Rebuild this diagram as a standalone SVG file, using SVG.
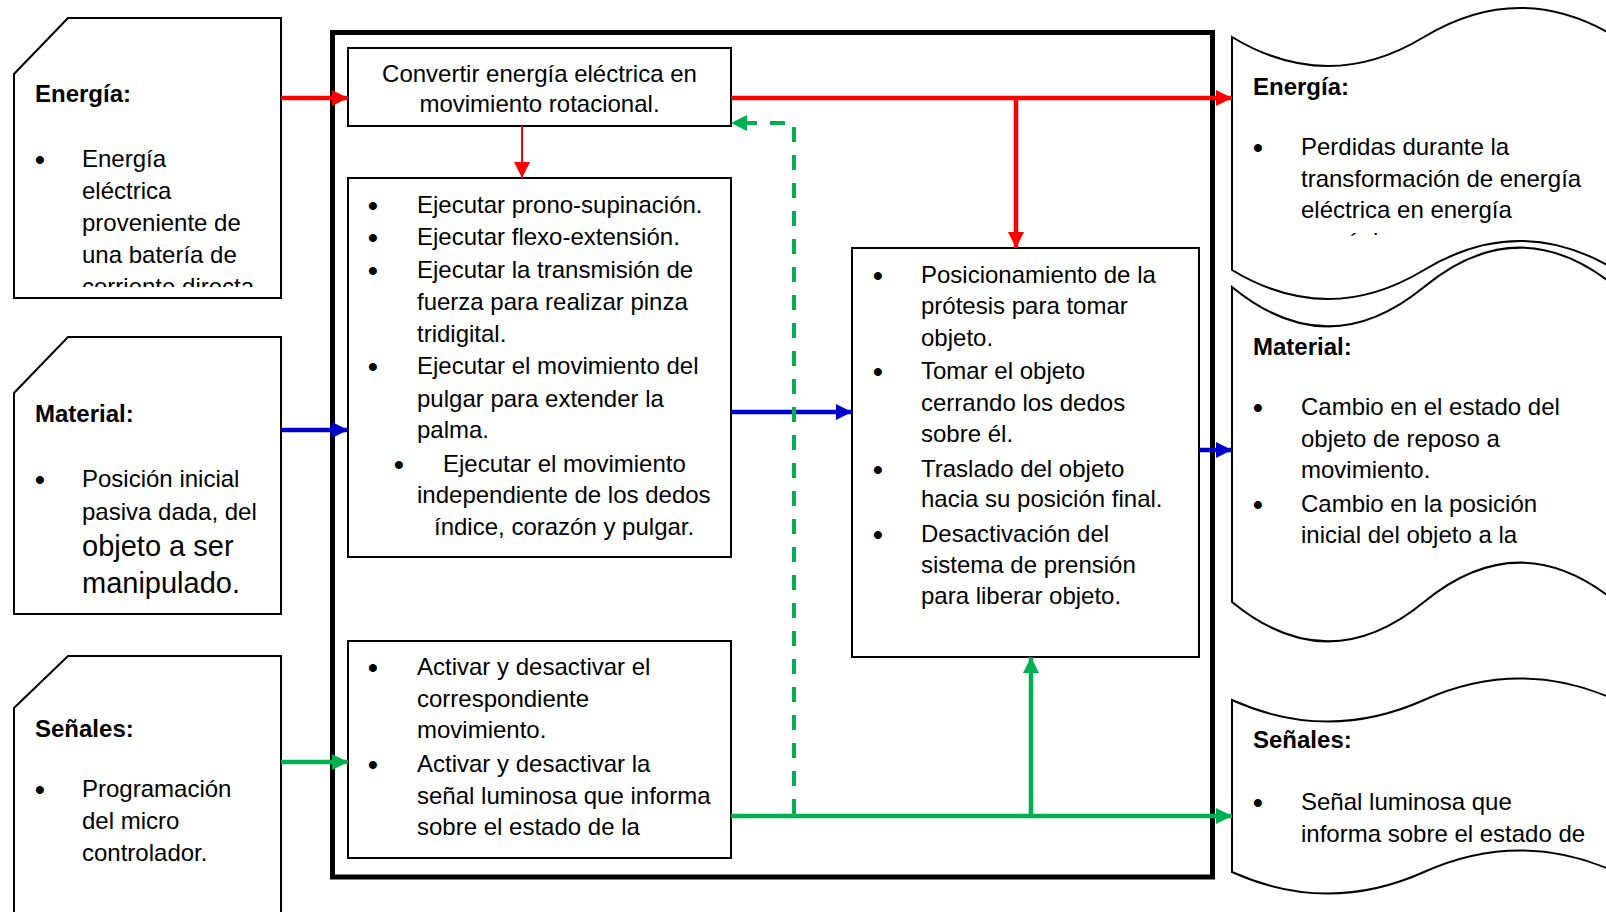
<svg xmlns="http://www.w3.org/2000/svg" width="1606" height="912" viewBox="0 0 1606 912">
<style>
text{font-family:"Liberation Sans",Arial,sans-serif;font-size:24px;fill:#000}
.b{font-weight:bold}
.big{font-size:29px}
.bul{text-anchor:middle;font-size:28px;font-weight:bold}
.c{text-anchor:middle}
.box{fill:#fff;stroke:#000;stroke-width:2}
.frame{fill:none;stroke:#000;stroke-width:5}
.r{stroke:#FF0000;stroke-width:4.5;fill:none}
.r2{stroke:#FF0000;stroke-width:2;fill:none}
.bl{stroke:#0000CC;stroke-width:4.5;fill:none}
.g{stroke:#00B050;stroke-width:4.5;fill:none}
.gd{stroke:#00B050;stroke-width:4;fill:none;stroke-dasharray:15 13}
</style>
<defs>
<marker id="ar" markerUnits="userSpaceOnUse" markerWidth="16" markerHeight="16" refX="16" refY="8" orient="auto"><path d="M0,0 L16,8 L0,16 z" fill="#FF0000"/></marker>
<marker id="ab" markerUnits="userSpaceOnUse" markerWidth="16" markerHeight="16" refX="16" refY="8" orient="auto"><path d="M0,0 L16,8 L0,16 z" fill="#0000CC"/></marker>
<marker id="ag" markerUnits="userSpaceOnUse" markerWidth="16" markerHeight="16" refX="16" refY="8" orient="auto"><path d="M0,0 L16,8 L0,16 z" fill="#00B050"/></marker>
<clipPath id="clipE"><rect x="0" y="0" width="300" height="287"/></clipPath>
<clipPath id="clipRE"><rect x="1230" y="0" width="380" height="236"/></clipPath>
</defs>
<rect width="1606" height="912" fill="#fff"/>

<g id="in-energia">
<polygon class="box" points="68,18 281,18 281,298 14,298 14,74"/>
<text class="b" x="35" y="102">Energía:</text>
<text class="bul" x="40" y="169">•</text>
<g clip-path="url(#clipE)">
<text x="82" y="167">Energía</text>
<text x="82" y="199">eléctrica</text>
<text x="82" y="231">proveniente de</text>
<text x="82" y="263">una batería de</text>
<text x="82" y="295">corriente directa</text>
</g>
</g>

<g id="in-material">
<polygon class="box" points="68,337 281,337 281,614 14,614 14,393"/>
<text class="b" x="35" y="422">Material:</text>
<text class="bul" x="40" y="489">•</text>
<text x="82" y="487">Posición inicial</text>
<text x="82" y="520">pasiva dada, del</text>
<text class="big" x="82" y="556">objeto a ser</text>
<text class="big" x="82" y="593">manipulado.</text>
</g>

<g id="in-senales">
<polygon class="box" points="68,656 281,656 281,920 14,920 14,708"/>
<text class="b" x="35" y="737">Señales:</text>
<text class="bul" x="40" y="799">•</text>
<text x="82" y="797">Programación</text>
<text x="82" y="829">del micro</text>
<text x="82" y="861">controlador.</text>
</g>

<g id="frame">
<rect class="frame" x="332.5" y="32.5" width="880" height="844.5"/>
</g>

<g id="convertir">
<rect class="box" x="348" y="48" width="383" height="78"/>
<text class="c" x="539.5" y="82">Convertir energía eléctrica en</text>
<text class="c" x="539.5" y="112">movimiento rotacional.</text>
</g>

<g id="ejecutar">
<rect class="box" x="348" y="178" width="383" height="379"/>
<text class="bul" x="373" y="215">•</text>
<text x="417" y="213">Ejecutar prono-supinación.</text>
<text class="bul" x="373" y="247">•</text>
<text x="417" y="245">Ejecutar flexo-extensión.</text>
<text class="bul" x="373" y="280">•</text>
<text x="417" y="278">Ejecutar la transmisión de</text>
<text x="417" y="310">fuerza para realizar pinza</text>
<text x="417" y="342">tridigital.</text>
<text class="bul" x="373" y="376">•</text>
<text x="417" y="374">Ejecutar el movimiento del</text>
<text x="417" y="407">pulgar para extender la</text>
<text x="417" y="438">palma.</text>
<text class="bul" x="399" y="474">•</text>
<text x="443" y="472">Ejecutar el movimiento</text>
<text x="417" y="503">independiente de los dedos</text>
<text x="434" y="535">índice, corazón y pulgar.</text>
</g>

<g id="activar">
<rect class="box" x="348" y="641" width="383" height="217"/>
<text class="bul" x="373" y="677">•</text>
<text x="417" y="675">Activar y desactivar el</text>
<text x="417" y="707">correspondiente</text>
<text x="417" y="738">movimiento.</text>
<text class="bul" x="373" y="774">•</text>
<text x="417" y="772">Activar y desactivar la</text>
<text x="417" y="804">señal luminosa que informa</text>
<text x="417" y="835">sobre el estado de la</text>
</g>

<g id="posicionamiento">
<rect class="box" x="852" y="248" width="347" height="409"/>
<text class="bul" x="878" y="285">•</text>
<text x="921" y="283">Posicionamiento de la</text>
<text x="921" y="314">prótesis para tomar</text>
<text x="921" y="346">objeto.</text>
<text class="bul" x="878" y="381">•</text>
<text x="921" y="379">Tomar el objeto</text>
<text x="921" y="411">cerrando los dedos</text>
<text x="921" y="442">sobre él.</text>
<text class="bul" x="878" y="479">•</text>
<text x="921" y="477">Traslado del objeto</text>
<text x="921" y="507">hacia su posición final.</text>
<text class="bul" x="878" y="544">•</text>
<text x="921" y="542">Desactivación del</text>
<text x="921" y="573">sistema de prensión</text>
<text x="921" y="604">para liberar objeto.</text>
</g>

<g id="out-energia">
<path class="box" d="M1232,37 C1296,75.7 1360,75.7 1424,37 C1488,-1.7 1552,-1.7 1616,37 L1616,270 C1552,231.3 1488,231.3 1424,270 C1360,308.7 1296,308.7 1232,270 Z"/>
<text class="b" x="1253" y="95">Energía:</text>
<text class="bul" x="1258" y="157">•</text>
<g clip-path="url(#clipRE)">
<text x="1301" y="155">Perdidas durante la</text>
<text x="1301" y="187">transformación de energía</text>
<text x="1301" y="218">eléctrica en energía</text>
<text x="1301" y="250">mecánica.</text>
</g>
</g>

<g id="out-material">
<path class="box" d="M1232,287 C1296,339.5 1360,339.5 1424,287 C1488,234.5 1552,234.5 1616,287 L1616,602 C1552,549.5 1488,549.5 1424,602 C1360,654.5 1296,654.5 1232,602 Z"/>
<text class="b" x="1253" y="355">Material:</text>
<text class="bul" x="1258" y="417">•</text>
<text x="1301" y="415">Cambio en el estado del</text>
<text x="1301" y="447">objeto de reposo a</text>
<text x="1301" y="478">movimiento.</text>
<text class="bul" x="1258" y="514">•</text>
<text x="1301" y="512">Cambio en la posición</text>
<text x="1301" y="543">inicial del objeto a la</text>
</g>

<g id="out-senales">
<path class="box" d="M1232,700 C1296,728.7 1360,728.7 1424,700 C1488,671.3 1552,671.3 1616,700 L1616,872 C1552,843.3 1488,843.3 1424,872 C1360,900.7 1296,900.7 1232,872 Z"/>
<text class="b" x="1253" y="748">Señales:</text>
<text class="bul" x="1258" y="812">•</text>
<text x="1301" y="810">Señal luminosa que</text>
<text x="1301" y="842">informa sobre el estado de</text>
</g>

<g id="connectors">
<line class="r" x1="281" y1="98" x2="348" y2="98" marker-end="url(#ar)"/>
<line class="r2" x1="522" y1="126" x2="522" y2="178" marker-end="url(#ar)"/>
<line class="r" x1="731" y1="98" x2="1232" y2="98" marker-end="url(#ar)"/>
<line class="r" x1="1016" y1="98" x2="1016" y2="248" marker-end="url(#ar)"/>
<line class="bl" x1="281" y1="430" x2="348" y2="430" marker-end="url(#ab)"/>
<line class="bl" x1="731" y1="412" x2="852" y2="412" marker-end="url(#ab)"/>
<line class="bl" x1="1199" y1="450" x2="1232" y2="450" marker-end="url(#ab)"/>
<line class="g" x1="281" y1="762" x2="348" y2="762" marker-end="url(#ag)"/>
<line class="g" x1="731" y1="816" x2="1232" y2="816" marker-end="url(#ag)"/>
<line class="g" x1="1031" y1="816" x2="1031" y2="657" marker-end="url(#ag)"/>
<path class="gd" d="M794,814 L794,123 L731,123" marker-end="url(#ag)"/>
</g>
</svg>
